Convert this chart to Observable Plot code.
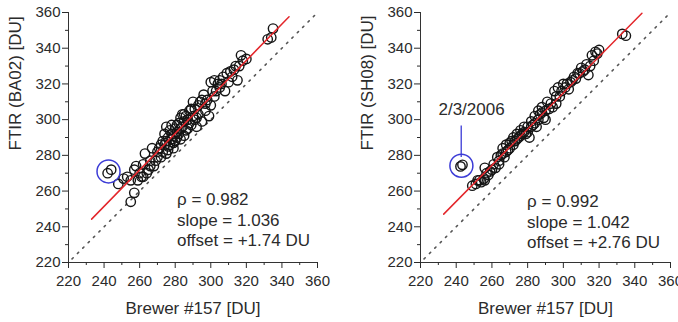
<!DOCTYPE html>
<html><head><meta charset="utf-8">
<script src="https://cdn.jsdelivr.net/npm/d3@7"></script>
<script src="https://cdn.jsdelivr.net/npm/@observablehq/plot@0.6"></script>
<style>
body{margin:0;background:#fff;}
#wrap{position:relative;width:678px;height:322px;overflow:hidden;background:#fff;}
#left{position:absolute;left:0;top:0}
#right{position:absolute;left:340px;top:0}
</style></head><body><div id="wrap"><div id="left"></div><div id="right"></div></div>
<script>
// ---- data ----
const majorTicks = [220, 240, 260, 280, 300, 320, 340, 360];
const minorTicks = [230, 250, 270, 290, 310, 330, 350];
const xLabel = "Brewer #157 [DU]";

// Left panel: Brewer vs FTIR (BA02)
const leftBrewer = [242,244,248,251,253,255,255,257,257,258,259,261,262,263,264,265,266,267,268,269,270,271,272,273,273,274,275,275,276,277,277,278,279,280,280,281,282,283,283,284,284,285,285,286,287,288,289,290,291,292,293,294,295,296,297,298,299,300,301,302,303,304,305,307,308,309,311,313,314,315,317,320,332,334,335,274,276,278,279,281,282,286,288,290,292,270,272,275,276,278,279,281,283,285,287,289,291,293,295,297,300,302,305,306,310,312,316,318,260,262,266];
const leftFtir   = [270,272,264,267,268,266,254,259,272,274,266,268,275,281,270,272,277,284,274,277,279,284,279,288,282,292,281,296,290,294,286,289,284,288,295,297,292,301,289,303,296,299,291,294,300,305,297,302,306,296,308,310,299,314,305,311,302,321,316,322,316,320,322,324,316,326,327,328,330,322,336,334,345,346,351,286,285,292,291,290,298,302,298,310,301,282,286,288,283,297,287,293,295,303,295,306,300,303,311,309,308,313,318,320,321,324,330,333,270,268,274];
const leftFitX = [233, 344];
const leftFitY = [244.3, 357.6];
const leftOutlier = {x: 242.5, y: 271};
const leftStats = "ρ = 0.982\nslope = 1.036\noffset = +1.74 DU";
const leftYLabel = "FTIR (BA02) [DU]";

// Right panel: Brewer vs FTIR (SH08)
const rightBrewer = [242.4,243.5,249,251,252,254,255.5,256,258,259,260,261,262,263,264,265,266,267,268,269,270,271,272,273,274,275,276,277,278,279,280,281,282,283,284,285,286,287,288,289,290,291,292,294,295,296,297,298,300,302,303,304,306,308,310,311,314,315,316,318,320,333,335,264,266,268,270,272,274,276,278,280,282,284,286,288,290,293,296,299,301,305,307,309,312,313,317,319,256,253,257];
const rightFtir   = [273.8,274.7,263,264,266,265,267,273,269,271,272,275,273,279,277,280,284,279,286,283,284,288,290,288,292,290,294,292,296,292,296,290,299,297,302,296,305,303,307,301,300,310,306,307,316,309,318,313,320,320,317,321,324,326,329,327,325,330,336,338,339,348,347,275,281,282,287,286,289,291,293,293,296,298,300,304,305,309,313,316,318,322,323,326,328,331,333,337,266,266,270];
const rightFitX = [233, 344];
const rightFitY = [247.1, 359.6];
const rightOutlier = {x: 242.9, y: 274.2};
const rightStats = "ρ = 0.992\nslope = 1.042\noffset = +2.76 DU";
const rightYLabel = "FTIR (SH08) [DU]";
const dateLabel = "2/3/2006";
const identity = [222, 360];

const FONT = "Arial, 'Liberation Sans', sans-serif";
const TXT = "#2b2b2b";
const RED = "#e3262b";
const BLUE = "#3b3bd6";

function panel(o) {
  const idx = o.bx.map((_, i) => i);
  const marks = [
    Plot.ruleX([220], {stroke: "#333"}),
    Plot.ruleY([220], {stroke: "#333"}),
    Plot.axisX({ticks: majorTicks, tickSize: 6, tickPadding: 7, fontSize: 15, label: null, tickFormat: d => String(d)}),
    Plot.axisX({ticks: minorTicks, tickSize: 3, tickFormat: () => "", label: null}),
    Plot.axisY({ticks: majorTicks, tickSize: 6, tickPadding: 2, fontSize: 15, label: null, tickFormat: d => String(d)}),
    Plot.axisY({ticks: minorTicks, tickSize: 3, tickFormat: () => "", label: null}),
    Plot.line(identity, {x: d => d, y: d => d, stroke: "#555", strokeWidth: 1.6, strokeDasharray: "1.6,6", strokeLinecap: "round"}),
    Plot.dot(idx, {x: i => o.bx[i], y: i => o.fy[i], r: 4.7, stroke: "#151515", strokeWidth: 1.4, fill: "none"}),
    Plot.line({length: 2}, {x: o.fitX, y: o.fitY, stroke: RED, strokeWidth: 1.5}),
    Plot.dot([o.outlier], {x: "x", y: "y", r: 11.5, stroke: BLUE, strokeWidth: 1.5, fill: "none"}),
    Plot.text([o.stats], {x: o.statX, y: o.statY, textAnchor: "start", lineAnchor: "middle", fontSize: 17, lineHeight: 1.22, fill: TXT}),
    Plot.text([xLabel], {frameAnchor: "bottom", dy: 46, lineAnchor: "middle", fontSize: 17, fill: TXT}),
    Plot.text([o.ylabel], {frameAnchor: "left", rotate: -90, dx: -53, dy: 13, lineAnchor: "middle", fontSize: 17, fill: TXT})
  ];
  if (o.extra) marks.push(...o.extra);
  return Plot.plot({
    width: o.width, height: 322,
    marginLeft: o.marginLeft, marginRight: o.marginRight, marginTop: 12, marginBottom: 60,
    x: {domain: [220, 360]}, y: {domain: [220, 360]},
    style: {fontFamily: FONT, color: TXT, overflow: "visible", background: "transparent"},
    marks
  });
}

document.getElementById("left").append(panel({
  width: 340, marginLeft: 68, marginRight: 23,
  bx: leftBrewer, fy: leftFtir, fitX: leftFitX, fitY: leftFitY,
  outlier: leftOutlier, stats: leftStats, statX: 281, statY: 244.3, ylabel: leftYLabel
}));

document.getElementById("right").append(panel({
  width: 338, marginLeft: 80, marginRight: 8,
  bx: rightBrewer, fy: rightFtir, fitX: rightFitX, fitY: rightFitY,
  outlier: rightOutlier, stats: rightStats, statX: 279.7, statY: 243.3, ylabel: rightYLabel,
  extra: [
    Plot.ruleX([242.8], {y1: 278.8, y2: 296.5, stroke: BLUE, strokeWidth: 1.3}),
    Plot.text([dateLabel], {x: 248.6, y: 305.9, fontSize: 17, fill: TXT})
  ]
}));
</script></body></html>
